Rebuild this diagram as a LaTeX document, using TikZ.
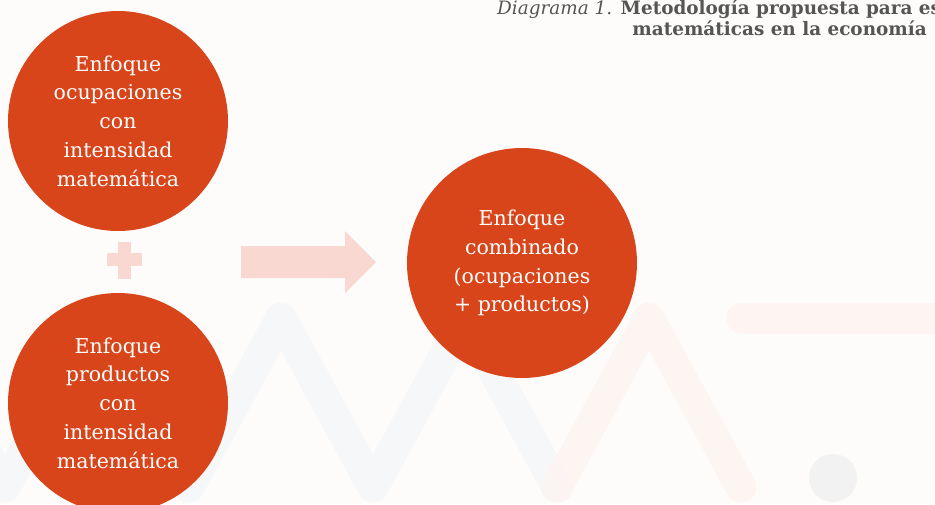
\documentclass[tikz,border=0pt]{standalone}
\usepackage{fontspec}
\setmainfont{DejaVu Serif}
\definecolor{bgC}{RGB}{253,252,251}
\definecolor{orangeC}{RGB}{217,69,26}
\definecolor{paleC}{RGB}{248,216,208}
\definecolor{zigGray}{RGB}{246,247,248}
\definecolor{zigPink}{RGB}{254,244,241}
\definecolor{dotGray}{RGB}{242,242,242}
\definecolor{titleC}{RGB}{85,85,85}
\begin{document}
\begin{tikzpicture}[x=1pt,y=-1pt,
  circ/.style={circle,fill=orangeC,draw=none,minimum size=#1,inner sep=0pt,
    text=white,align=center,font=\fontsize{20.5}{28.7}\selectfont},
  wave/.style={line width=31pt,line cap=round,line join=round},
  pale/.style={fill=paleC,draw=none},
  titletext/.style={text=titleC,inner sep=0pt,font=\fontsize{18.4}{21}\selectfont\bfseries}]
\useasboundingbox (0,0) rectangle (935,504);
\clip (0,0) rectangle (935,504);
\fill[bgC] (0,0) rectangle (935,504);
% background watermark
\draw[wave,zigGray] (-87,318) -- (5,487) -- (97,318) -- (189,487) -- (281,318)
  -- (373,487) -- (465,318) -- (557,487);
\draw[wave,zigPink,opacity=0.85] (557,487) -- (649,318) -- (741,487);
\draw[wave,zigPink] (742,318) -- (980,318);
\fill[dotGray] (833,478) circle[radius=24];
% title
\node[titletext,anchor=base west] (t1) at (497,14)
  {{\normalfont\itshape Diagrama 1.} Metodología propuesta para es};
\node[titletext,anchor=base east] (t2) at (927,35) {matemáticas en la economía};
% plus sign
\path[pale] (118,242) rectangle (131,279);
\path[pale] (107,253) rectangle (142,266);
\coordinate (plus) at (124,260);
% block arrow
\path[pale] (241,246) -- (345,246) -- (345,231) -- (376,262) -- (345,293)
  -- (345,278) -- (241,278) -- cycle;
% circles
\node[circ=220pt] (occ) at (118,121)
  {Enfoque\\ocupaciones\\con\\intensidad\\matemática};
\node[circ=220pt] (prod) at (118,403)
  {Enfoque\\productos\\con\\intensidad\\matemática};
\node[circ=230pt] (comb) at (522,263)
  {Enfoque\\combinado\\(ocupaciones\\+ productos)};
\end{tikzpicture}
\end{document}
